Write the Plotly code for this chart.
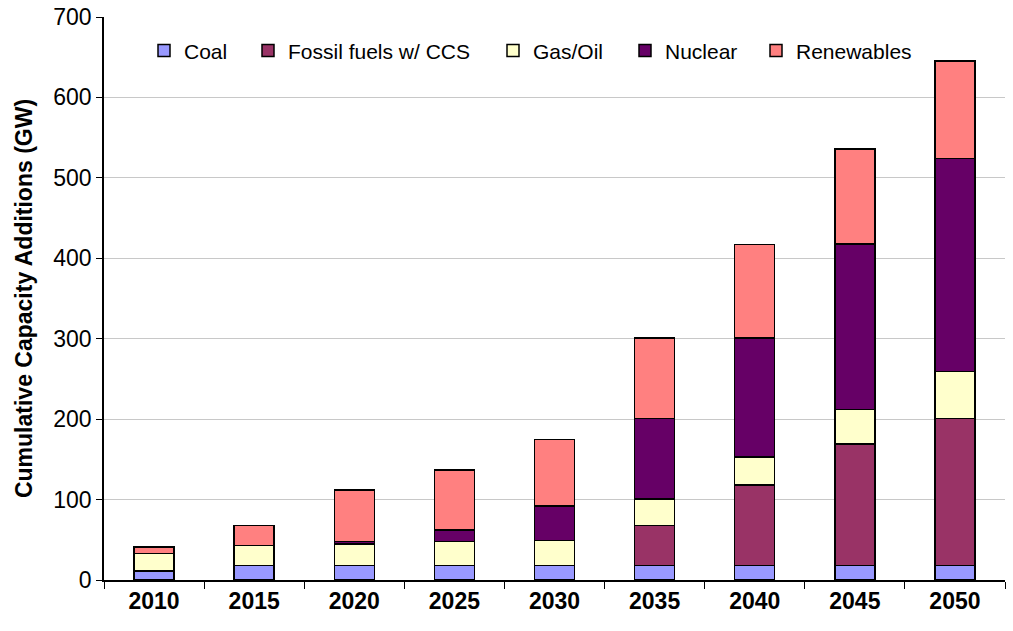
import plotly.graph_objects as go

years = ["2010", "2015", "2020", "2025", "2030", "2035", "2040", "2045", "2050"]
coal = [11, 18, 18, 18, 18, 18, 18, 18, 18]
ccs = [0, 0, 0, 0, 0, 50, 100, 151, 183]
gas_oil = [22, 25, 27, 30, 31, 33, 35, 43, 58]
nuclear = [0, 0, 3, 14, 43, 100, 148, 206, 265]
renewables = [8, 25, 64, 75, 83, 100, 116, 118, 121]

series = [
    ("Coal", coal, "#9999FF"),
    ("Fossil fuels w/ CCS", ccs, "#993366"),
    ("Gas/Oil", gas_oil, "#FFFFCC"),
    ("Nuclear", nuclear, "#660066"),
    ("Renewables", renewables, "#FF8080"),
]

FONT = "Liberation Sans, Arial, sans-serif"
L, R, T, B = 104, 8, 17, 51
W, H = 1013, 631
plot_w = W - L - R

# legend entry left edges (pixels), one legend per series to mimic spacing
legend_px = [144, 248, 493, 625, 756]

fig = go.Figure()
legend_layouts = {}
for i, (name, vals, color) in enumerate(series):
    lname = "legend" if i == 0 else f"legend{i+1}"
    fig.add_trace(go.Bar(
        x=years, y=vals, name=name,
        marker=dict(color=color, line=dict(color="black", width=1.5)),
        legend=lname,
    ))
    legend_layouts[lname] = dict(
        orientation="h",
        x=(legend_px[i] - L) / plot_w, y=0.94,
        xanchor="left", yanchor="middle",
        font=dict(family=FONT, size=21, color="black"),
        bgcolor="rgba(0,0,0,0)",
        itemwidth=30,
    )

fig.update_layout(
    barmode="stack",
    bargap=0.6,
    width=W, height=H,
    margin=dict(l=L, r=R, t=T, b=B, autoexpand=False),
    paper_bgcolor="white",
    plot_bgcolor="white",
    font=dict(family=FONT, size=22, color="black"),
    showlegend=True,
    xaxis=dict(
        automargin=False,
        showline=True, linecolor="black", linewidth=1.5,
        ticks="outside", tickson="boundaries", ticklen=7, tickcolor="black",
        tickfont=dict(family=FONT, size=23, color="black", weight="bold"),
        showgrid=False,
    ),
    yaxis=dict(
        automargin=False,
        range=[0, 700], dtick=100,
        showline=True, linecolor="black", linewidth=1.5,
        ticks="outside", ticklen=6, tickcolor="black",
        tickfont=dict(family=FONT, size=23, color="black"),
        showgrid=True, gridcolor="#C8C8C8", gridwidth=1,
        zeroline=False,
        title=dict(text="<b>Cumulative Capacity Additions (GW)</b>",
                   font=dict(family=FONT, size=23, color="black"), standoff=14),
    ),
    **legend_layouts,
)

fig.write_html("out.html")
